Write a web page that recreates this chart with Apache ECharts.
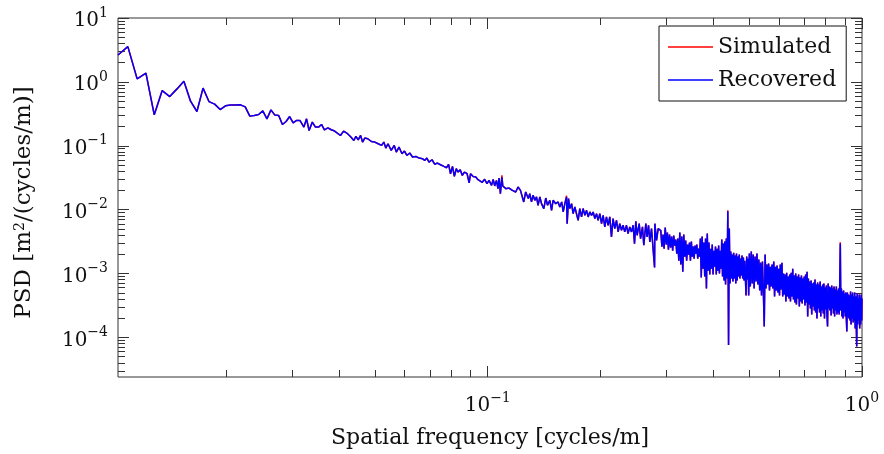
<!DOCTYPE html>
<html>
<head>
<meta charset="utf-8">
<script src="https://cdn.jsdelivr.net/npm/echarts@6/dist/echarts.min.js"></script>
<style>
  html, body { margin: 0; padding: 0; background: #fff; }
  #chart { width: 884px; height: 454px; }
</style>
</head>
<body>
<div id="chart"></div>
<script>
// Spatial frequency of each spectral estimate [cycles/m]
const freq = [
  0.010283, 0.010925, 0.011568, 0.012211, 0.012853, 0.013496, 0.014139, 0.014781, 0.015424, 0.016067,
  0.016710, 0.017352, 0.017995, 0.018638, 0.019280, 0.019923, 0.020566, 0.021208, 0.021851, 0.022494,
  0.023136, 0.023779, 0.024422, 0.025064, 0.025707, 0.026350, 0.026992, 0.027635, 0.028278, 0.028920,
  0.029563, 0.030206, 0.030848, 0.031491,
  0.03227, 0.03280, 0.03332, 0.03399, 0.03465, 0.03532, 0.03597, 0.03661, 0.03740, 0.03818,
  0.03899, 0.03946, 0.04041, 0.04120, 0.04202, 0.04297, 0.04388, 0.04444, 0.04508, 0.04574,
  0.04630, 0.04693, 0.04780, 0.04887, 0.04992, 0.05097, 0.05204, 0.05277, 0.05341, 0.05414,
  0.05522, 0.05626, 0.05699, 0.05793, 0.05900, 0.05991, 0.06082, 0.06189, 0.06296, 0.06427,
  0.06558, 0.06692, 0.06784, 0.06875, 0.06970, 0.07098, 0.07222, 0.07317, 0.07479, 0.07636,
  0.07764, 0.07859, 0.07955, 0.08050, 0.08145, 0.08240, 0.08331, 0.08442, 0.08553, 0.08664,
  0.08808, 0.08919, 0.08997, 0.09141, 0.09291, 0.09419, 0.09513,
  0.09665, 0.09810, 0.09956, 0.1008, 0.1024, 0.1034, 0.1044, 0.1055, 0.1065, 0.1072,
  0.1081, 0.1091, 0.1097, 0.1118, 0.1140, 0.1164, 0.1188, 0.1205, 0.1223, 0.1238,
  0.1248, 0.1263, 0.1284, 0.1295, 0.1309, 0.1322, 0.1336, 0.1350, 0.1363, 0.1378,
  0.1392, 0.1412, 0.1429, 0.1445, 0.1465, 0.1481, 0.1495, 0.1520, 0.1542, 0.1558,
  0.1576, 0.1591, 0.1607, 0.1624, 0.1630, 0.1644, 0.1657, 0.1675, 0.1691, 0.1709,
  0.1727, 0.1744, 0.1762, 0.1781, 0.1798, 0.1818, 0.1837, 0.1855, 0.1874, 0.1894,
  0.1913, 0.1933, 0.1953, 0.1972, 0.1993, 0.2014, 0.2034, 0.2055, 0.2076, 0.2097,
  0.2119, 0.2141, 0.2162, 0.2185, 0.2208, 0.2231, 0.2253, 0.2277, 0.2299, 0.2323,
  0.2348, 0.2371, 0.2396, 0.2422, 0.2446, 0.2467, 0.2487, 0.2507, 0.2539, 0.2561,
  0.2591, 0.2612, 0.2645, 0.2666, 0.2689, 0.2711, 0.2739, 0.2791, 0.2796, 0.2825,
  0.2854,
  0.290, 0.292, 0.294, 0.296, 0.298, 0.300, 0.302, 0.304, 0.306, 0.308,
  0.310, 0.312, 0.314, 0.316, 0.318, 0.320, 0.322, 0.324, 0.326, 0.328,
  0.330, 0.332, 0.334, 0.336, 0.338, 0.340, 0.342, 0.344, 0.346, 0.348,
  0.350, 0.352, 0.354, 0.356, 0.358, 0.360, 0.362, 0.364, 0.366, 0.368,
  0.370, 0.372, 0.374, 0.376, 0.378, 0.380, 0.382, 0.384, 0.386, 0.388,
  0.390, 0.392, 0.394, 0.396, 0.398, 0.400, 0.402, 0.404, 0.406, 0.408,
  0.410, 0.412, 0.414, 0.416, 0.418, 0.420, 0.422, 0.424, 0.426, 0.428,
  0.430, 0.432, 0.434, 0.436, 0.438, 0.440, 0.442, 0.444, 0.446, 0.448,
  0.450, 0.452, 0.454, 0.456, 0.458, 0.460, 0.462, 0.464, 0.466, 0.468,
  0.470, 0.472, 0.474, 0.476, 0.478, 0.480, 0.482, 0.484, 0.486, 0.488,
  0.490, 0.492, 0.494, 0.496, 0.498, 0.500,
  0.503, 0.506, 0.509, 0.512, 0.515, 0.518, 0.521, 0.524, 0.527, 0.530,
  0.533, 0.536, 0.539, 0.542, 0.545, 0.548, 0.551, 0.554, 0.557, 0.560,
  0.563, 0.566, 0.569, 0.572, 0.575, 0.578, 0.581, 0.584, 0.587, 0.590,
  0.593, 0.596, 0.599, 0.602, 0.605, 0.608, 0.611, 0.614, 0.617, 0.620,
  0.623, 0.626, 0.629, 0.632, 0.635, 0.638, 0.641, 0.644, 0.647, 0.650,
  0.653, 0.656, 0.659, 0.662, 0.665, 0.668, 0.671, 0.674, 0.677, 0.680,
  0.683, 0.686, 0.689, 0.692, 0.695, 0.698, 0.701, 0.704, 0.707, 0.710,
  0.713, 0.716, 0.719, 0.722, 0.725, 0.728, 0.731, 0.734, 0.737, 0.740,
  0.743, 0.746, 0.749, 0.752, 0.755, 0.758, 0.761, 0.764, 0.767, 0.770,
  0.773, 0.776, 0.779, 0.782, 0.785, 0.788, 0.791, 0.794, 0.797, 0.800,
  0.803, 0.806, 0.809, 0.812, 0.815, 0.818, 0.821, 0.824, 0.827, 0.830,
  0.833, 0.836, 0.839, 0.842, 0.845, 0.848, 0.851, 0.854, 0.857, 0.860,
  0.863, 0.866, 0.869, 0.872, 0.875, 0.878, 0.881, 0.884, 0.887, 0.890,
  0.893, 0.896, 0.899, 0.902, 0.905, 0.908, 0.911, 0.914, 0.917, 0.920,
  0.923, 0.926, 0.929, 0.932, 0.935, 0.938, 0.941, 0.944, 0.947, 0.950,
  0.953, 0.956, 0.959, 0.962, 0.965, 0.968, 0.971, 0.974, 0.977, 0.980,
  0.983, 0.986, 0.989, 0.992, 0.995, 0.998, 1.000
];

// PSD of the simulated profile [m^2/(cycles/m)]
const simulated = [
  2.64, 3.56, 1.114, 1.367, 0.305, 0.731, 0.589, 0.777, 1.025, 0.499,
  0.344, 0.797, 0.492, 0.448, 0.369, 0.422, 0.433, 0.433, 0.437, 0.407,
  0.291, 0.297, 0.308, 0.352, 0.264, 0.365, 0.302, 0.297, 0.215, 0.240,
  0.287, 0.229, 0.249, 0.249,
  0.196, 0.264, 0.1735, 0.2346, 0.196, 0.196, 0.2155, 0.1778, 0.1911, 0.178,
  0.1698, 0.1735, 0.1449, 0.1698, 0.158, 0.1398, 0.121, 0.1398, 0.1241, 0.1449,
  0.1143, 0.132, 0.1287, 0.1167, 0.1143, 0.1075, 0.1012, 0.1143, 0.0921, 0.1075,
  0.0845, 0.1012, 0.0797, 0.0954, 0.075, 0.0827, 0.0705, 0.0769, 0.0666, 0.068,
  0.0642, 0.0627, 0.0589, 0.0642, 0.0556, 0.0604, 0.051, 0.0537, 0.0505, 0.0475,
  0.0453, 0.051, 0.0365, 0.0475, 0.0331, 0.0437, 0.0388, 0.0422, 0.0344, 0.0388,
  0.0365, 0.0262, 0.0365, 0.0331, 0.0324, 0.0294, 0.0305,
  0.0268, 0.0298, 0.0255, 0.0287, 0.024, 0.0298, 0.0235, 0.0287, 0.0213, 0.0313,
  0.0178, 0.0345, 0.0235, 0.0213, 0.0218, 0.02, 0.0189, 0.0226, 0.02, 0.0213,
  0.0132, 0.0189, 0.0149, 0.0178, 0.0132, 0.0168, 0.014, 0.0158, 0.0117, 0.0158,
  0.0124, 0.0104, 0.0152, 0.0117, 0.014, 0.00975, 0.014, 0.0124, 0.0132, 0.011,
  0.0132, 0.0092, 0.0124, 0.0165, 0.00604, 0.0149, 0.0104, 0.0124, 0.00866, 0.011,
  0.0117, 0.0068, 0.0104, 0.00769, 0.0104, 0.00815, 0.00975, 0.00769, 0.0092, 0.00815,
  0.0092, 0.00724, 0.00866, 0.0068, 0.00866, 0.00604, 0.00815, 0.00537, 0.00769, 0.00569,
  0.00769, 0.00374, 0.00724, 0.00505, 0.0068, 0.00448, 0.00604, 0.00475, 0.00569, 0.00448,
  0.00569, 0.00422, 0.00537, 0.00448, 0.00569, 0.00294, 0.00657, 0.00397, 0.00604, 0.00352,
  0.00537, 0.00277, 0.00604, 0.00374, 0.00569, 0.00313, 0.00505, 0.00124, 0.00604, 0.00331,
  0.00505,
  0.0047, 0.00264, 0.00407, 0.00245, 0.00523, 0.00284, 0.00437, 0.00237, 0.00407, 0.00255,
  0.00379, 0.00228, 0.00393, 0.00274, 0.0034, 0.00205, 0.00352, 0.00159, 0.00437, 0.00138,
  0.00379, 0.00107, 0.00407, 0.00184, 0.00328, 0.00159, 0.00284, 0.00198, 0.00305, 0.00159,
  0.00316, 0.00184, 0.00264, 0.00171, 0.00274, 0.00205, 0.00284, 0.00171, 0.00245, 0.00184,
  0.00352, 0.000866, 0.00379, 0.00119, 0.00305, 0.000898, 0.00352, 0.000583, 0.00422, 0.00111,
  0.00305, 0.000965, 0.00245, 0.00119, 0.00284, 0.000965, 0.00228, 0.00128, 0.00264, 0.000965,
  0.00245, 0.00111, 0.00274, 0.001, 0.00228, 0.00119, 0.0034, 0.000898, 0.00294, 0.000777,
  0.00316, 0.000673, 0.00352, 0.000835, 0.0098, 0.0000758, 0.00505, 0.000698, 0.00221, 0.000835,
  0.00198, 0.00075, 0.00212, 0.000835, 0.00191, 0.000698, 0.00205, 0.000777, 0.00184, 0.000898,
  0.00198, 0.000835, 0.00171, 0.000931, 0.00191, 0.000835, 0.00178, 0.000777, 0.00159, 0.000866,
  0.000453, 0.00184, 0.000806, 0.00171, 0.000453, 0.00205,
  0.000626, 0.00221, 0.000698, 0.00198, 0.000583, 0.00184, 0.00075, 0.00205, 0.000673, 0.00165,
  0.000542, 0.00148, 0.000453, 0.00154, 0.000542, 0.000148, 0.00198, 0.000583, 0.00138, 0.000673,
  0.00143, 0.000542, 0.00128, 0.000626, 0.00138, 0.000583, 0.00154, 0.000437, 0.00128, 0.000542,
  0.00133, 0.000505, 0.00119, 0.000453, 0.00138, 0.000562, 0.00148, 0.000437, 0.001, 0.00047,
  0.000965, 0.000365, 0.00103, 0.000437, 0.000898, 0.000407, 0.000965, 0.000365, 0.00103, 0.000437,
  0.00119, 0.000393, 0.000931, 0.000352, 0.001, 0.000328, 0.000898, 0.000407, 0.000965, 0.000305,
  0.000866, 0.000365, 0.000931, 0.00034, 0.000835, 0.000393, 0.000898, 0.000316, 0.000965, 0.000352,
  0.00107, 0.000213, 0.000835, 0.000328, 0.00075, 0.000284, 0.000777, 0.000229, 0.000698, 0.000305,
  0.000723, 0.000264, 0.000806, 0.000246, 0.000673, 0.000198, 0.000723, 0.000284, 0.000673, 0.000246,
  0.00075, 0.000213, 0.000626, 0.000264, 0.000673, 0.000237, 0.000698, 0.000198, 0.000604, 0.000274,
  0.000649, 0.000229, 0.000148, 0.000698, 0.000284, 0.000626, 0.000264, 0.000604, 0.000221, 0.000649,
  0.000284, 0.000583, 0.000237, 0.000626, 0.000213, 0.000562, 0.000264, 0.000626, 0.000229, 0.000542,
  0.000246, 0.000583, 0.000229, 0.000698, 0.0031, 0.000264, 0.000583, 0.000213, 0.000523, 0.000198,
  0.000542, 0.000246, 0.000487, 0.000213, 0.000505, 0.000198, 0.000124, 0.000505, 0.000213, 0.00047,
  0.000198, 0.000453, 0.000184, 0.000523, 0.000159, 0.00047, 0.000198, 0.000505, 0.000171, 0.000437,
  0.000184, 0.000505, 0.000138, 0.000437, 0.000171, 0.0000723, 0.000487, 0.000159, 0.000407, 0.000184,
  0.00047, 0.000138, 0.000422, 0.000159, 0.00047, 0.000184, 0.000407
];

// PSD recovered from the measurements [m^2/(cycles/m)]
const recovered = [
  2.64, 3.56, 1.114, 1.367, 0.305, 0.731, 0.589, 0.777, 1.025, 0.499,
  0.344, 0.797, 0.492, 0.448, 0.369, 0.422, 0.433, 0.433, 0.437, 0.407,
  0.291, 0.297, 0.308, 0.352, 0.264, 0.365, 0.302, 0.297, 0.215, 0.240,
  0.287, 0.229, 0.249, 0.249,
  0.196, 0.264, 0.1735, 0.2346, 0.196, 0.196, 0.2155, 0.1778, 0.1911, 0.178,
  0.1698, 0.1735, 0.1449, 0.1698, 0.158, 0.1398, 0.121, 0.1398, 0.1241, 0.1449,
  0.1143, 0.132, 0.1287, 0.1167, 0.1143, 0.1075, 0.1012, 0.1143, 0.0921, 0.1075,
  0.0845, 0.1012, 0.0797, 0.0954, 0.075, 0.0827, 0.0705, 0.0769, 0.0666, 0.068,
  0.0642, 0.0627, 0.0589, 0.0642, 0.0556, 0.0604, 0.051, 0.0537, 0.0505, 0.0475,
  0.0453, 0.051, 0.0365, 0.0475, 0.0331, 0.0437, 0.0388, 0.0422, 0.0344, 0.0388,
  0.0365, 0.0262, 0.0365, 0.0331, 0.0324, 0.0294, 0.0305,
  0.0268, 0.0298, 0.0255, 0.0287, 0.024, 0.0298, 0.0235, 0.0287, 0.0213, 0.0313,
  0.0178, 0.032, 0.0235, 0.0213, 0.0218, 0.02, 0.0189, 0.0226, 0.02, 0.0213,
  0.0132, 0.0189, 0.0149, 0.0178, 0.0132, 0.0168, 0.014, 0.0158, 0.0117, 0.0158,
  0.0124, 0.0104, 0.0152, 0.0117, 0.014, 0.00975, 0.014, 0.0124, 0.0132, 0.011,
  0.0132, 0.0092, 0.0124, 0.0158, 0.00604, 0.0149, 0.0104, 0.0124, 0.00866, 0.011,
  0.0117, 0.0068, 0.0104, 0.00769, 0.0104, 0.00815, 0.00975, 0.00769, 0.0092, 0.00815,
  0.0092, 0.00724, 0.00866, 0.0068, 0.00866, 0.00604, 0.00815, 0.00537, 0.00769, 0.00569,
  0.00769, 0.00374, 0.00724, 0.00505, 0.0068, 0.00448, 0.00604, 0.00475, 0.00569, 0.00448,
  0.00569, 0.00422, 0.00537, 0.00448, 0.00569, 0.00294, 0.00657, 0.00397, 0.00604, 0.00352,
  0.00537, 0.00277, 0.00604, 0.00374, 0.00569, 0.00313, 0.00505, 0.00124, 0.00604, 0.00331,
  0.00505,
  0.0047, 0.00264, 0.00407, 0.00245, 0.00523, 0.00284, 0.00437, 0.00237, 0.00407, 0.00255,
  0.00379, 0.00228, 0.00393, 0.00274, 0.0034, 0.00205, 0.00352, 0.00159, 0.00437, 0.00138,
  0.00379, 0.00107, 0.00407, 0.00184, 0.00328, 0.00159, 0.00284, 0.00198, 0.00305, 0.00159,
  0.00316, 0.00184, 0.00264, 0.00171, 0.00274, 0.00205, 0.00284, 0.00171, 0.00245, 0.00184,
  0.00352, 0.000866, 0.00379, 0.00119, 0.00305, 0.000898, 0.00352, 0.000583, 0.00422, 0.00111,
  0.00305, 0.000965, 0.00245, 0.00119, 0.00284, 0.000965, 0.00228, 0.00128, 0.00264, 0.000965,
  0.00245, 0.00111, 0.00274, 0.001, 0.00228, 0.00119, 0.0034, 0.000898, 0.00294, 0.000777,
  0.00316, 0.000673, 0.00352, 0.000835, 0.00941, 0.0000758, 0.00505, 0.000698, 0.00221, 0.000835,
  0.00198, 0.00075, 0.00212, 0.000835, 0.00191, 0.000698, 0.00205, 0.000777, 0.00184, 0.000898,
  0.00198, 0.000835, 0.00171, 0.000931, 0.00191, 0.000835, 0.00178, 0.000777, 0.00159, 0.000866,
  0.000453, 0.00184, 0.000806, 0.00171, 0.000453, 0.00205,
  0.000626, 0.00221, 0.000698, 0.00198, 0.000583, 0.00184, 0.00075, 0.00205, 0.000673, 0.00165,
  0.000542, 0.00148, 0.000453, 0.00154, 0.000542, 0.000148, 0.00198, 0.000583, 0.00138, 0.000673,
  0.00143, 0.000542, 0.00128, 0.000626, 0.00138, 0.000583, 0.00154, 0.000437, 0.00128, 0.000542,
  0.00133, 0.000505, 0.00119, 0.000453, 0.00138, 0.000562, 0.00148, 0.000437, 0.001, 0.00047,
  0.000965, 0.000365, 0.00103, 0.000437, 0.000898, 0.000407, 0.000965, 0.000365, 0.00103, 0.000437,
  0.00119, 0.000393, 0.000931, 0.000352, 0.001, 0.000328, 0.000898, 0.000407, 0.000965, 0.000305,
  0.000866, 0.000365, 0.000931, 0.00034, 0.000835, 0.000393, 0.000898, 0.000316, 0.000965, 0.000352,
  0.00107, 0.000213, 0.000835, 0.000328, 0.00075, 0.000284, 0.000777, 0.000229, 0.000698, 0.000305,
  0.000723, 0.000264, 0.000806, 0.000246, 0.000673, 0.000198, 0.000723, 0.000284, 0.000673, 0.000246,
  0.00075, 0.000213, 0.000626, 0.000264, 0.000673, 0.000237, 0.000698, 0.000198, 0.000604, 0.000274,
  0.000649, 0.000229, 0.000148, 0.000698, 0.000284, 0.000626, 0.000264, 0.000604, 0.000221, 0.000649,
  0.000284, 0.000583, 0.000237, 0.000626, 0.000213, 0.000562, 0.000264, 0.000626, 0.000229, 0.000542,
  0.000246, 0.000583, 0.000229, 0.000698, 0.00294, 0.000264, 0.000583, 0.000213, 0.000523, 0.000198,
  0.000542, 0.000246, 0.000487, 0.000213, 0.000505, 0.000198, 0.000124, 0.000505, 0.000213, 0.00047,
  0.000198, 0.000453, 0.000184, 0.000523, 0.000159, 0.00047, 0.000198, 0.000505, 0.000171, 0.000437,
  0.000184, 0.000505, 0.000138, 0.000437, 0.000171, 0.0000723, 0.000487, 0.000159, 0.000407, 0.000184,
  0.00047, 0.000138, 0.000422, 0.000159, 0.00047, 0.000184, 0.000407
];

const seriesNames = ['Simulated', 'Recovered'];
const seriesColors = ['#ff0000', '#0000ff'];

// Axis ranges and tick positions
const xRange = [0.010283, 1];
const yRange = [2.4e-5, 10];
const xMajorTicks = [0.01, 0.1, 1];
const xMinorTicks = [0.02, 0.03, 0.04, 0.05, 0.06, 0.07, 0.08, 0.09,
                     0.2, 0.3, 0.4, 0.5, 0.6, 0.7, 0.8, 0.9];
const yMajorTicks = [1e-4, 1e-3, 1e-2, 1e-1, 1, 10];
const yMinorTicks = [3e-5, 4e-5, 5e-5, 6e-5, 7e-5, 8e-5, 9e-5,
                     2e-4, 3e-4, 4e-4, 5e-4, 6e-4, 7e-4, 8e-4, 9e-4,
                     2e-3, 3e-3, 4e-3, 5e-3, 6e-3, 7e-3, 8e-3, 9e-3,
                     0.02, 0.03, 0.04, 0.05, 0.06, 0.07, 0.08, 0.09,
                     0.2, 0.3, 0.4, 0.5, 0.6, 0.7, 0.8, 0.9,
                     2, 3, 4, 5, 6, 7, 8, 9];

const xTitle = 'Spatial frequency [cycles/m]';
const yTitle = 'PSD [m{s|2}/(cycles/m)]';

const FONT = 'DejaVu Serif';
const INK = '#111';
const FRAME = '#333';

// Tick label as a power of ten with a raised exponent
function powerLabel(v) {
  const e = Math.round(Math.log10(v));
  return '{b|10}{s|' + (e < 0 ? '\u2212' + (-e) : String(e)) + '}';
}

const labelRich = {
  b: { fontFamily: FONT, fontSize: 20, color: INK, lineHeight: 30 },
  s: { fontFamily: FONT, fontSize: 14, color: INK, verticalAlign: 'top', lineHeight: 18 }
};
const titleRich = {
  s: { fontFamily: FONT, fontSize: 14, color: INK, verticalAlign: 'top', lineHeight: 16 }
};

function makeAxis(dim, position, ticks, tickLen, labelled) {
  const isX = dim === 'x';
  const axis = {
    type: 'log',
    logBase: 10,
    position: position,
    min: isX ? xRange[0] : yRange[0],
    max: isX ? xRange[1] : yRange[1],
    axisLine: { show: false, onZero: false },
    splitLine: { show: false },
    minorTick: { show: false },
    axisTick: {
      show: true, inside: true, length: tickLen, customValues: ticks,
      lineStyle: { color: FRAME, width: 1 }
    },
    axisLabel: { show: false },
    axisPointer: { show: false },
    silent: true
  };
  if (labelled) {
    axis.axisLabel = {
      show: true, customValues: ticks, formatter: powerLabel,
      margin: isX ? 14 : 10, rich: labelRich, color: INK,
      fontFamily: FONT,
      padding: isX ? 0 : [6, 0, 0, 0]
    };
    axis.name = isX ? xTitle : yTitle;
    axis.nameLocation = 'middle';
    axis.nameGap = isX ? 50 : 82;
    axis.nameTextStyle = {
      fontFamily: FONT, fontSize: isX ? 22 : 23, color: INK, rich: titleRich,
      padding: isX ? 0 : [0, 10, 0, 0]
    };
  }
  return axis;
}

const chart = echarts.init(document.getElementById('chart'), null, { renderer: 'canvas' });

chart.setOption({
  animation: false,
  backgroundColor: '#fff',
  grid: {
    left: 118, top: 18, width: 744, height: 360,
    show: true, borderColor: FRAME, borderWidth: 1, backgroundColor: 'transparent',
    containLabel: false
  },
  xAxis: [
    makeAxis('x', 'bottom', xMajorTicks, 11, true),
    makeAxis('x', 'bottom', xMinorTicks, 7, false),
    makeAxis('x', 'top', xMajorTicks, 11, false),
    makeAxis('x', 'top', xMinorTicks, 7, false)
  ],
  yAxis: [
    makeAxis('y', 'left', yMajorTicks, 11, true),
    makeAxis('y', 'left', yMinorTicks, 7, false),
    makeAxis('y', 'right', yMajorTicks, 11, false),
    makeAxis('y', 'right', yMinorTicks, 7, false)
  ],
  legend: {
    data: seriesNames,
    orient: 'vertical',
    left: 659, top: 26,
    padding: [9, 10, 9, 9],
    itemGap: 9,
    itemWidth: 45,
    itemHeight: 1.5,
    icon: 'rect',
    backgroundColor: '#fff',
    borderColor: INK,
    borderWidth: 1,
    borderRadius: 0,
    textStyle: { fontFamily: FONT, fontSize: 22, color: INK, lineHeight: 24 },
    selectedMode: false
  },
  series: [
    {
      name: seriesNames[0], type: 'line', xAxisIndex: 0, yAxisIndex: 0,
      data: freq.map((f, i) => [f, simulated[i]]),
      symbol: 'none', showSymbol: false, clip: true, z: 2,
      color: seriesColors[0],
      lineStyle: { color: seriesColors[0], width: 1.5 }
    },
    {
      name: seriesNames[1], type: 'line', xAxisIndex: 0, yAxisIndex: 0,
      data: freq.map((f, i) => [f, recovered[i]]),
      symbol: 'none', showSymbol: false, clip: true, z: 3,
      color: seriesColors[1],
      lineStyle: { color: seriesColors[1], width: 1.5 }
    }
  ]
});
</script>
</body>
</html>
